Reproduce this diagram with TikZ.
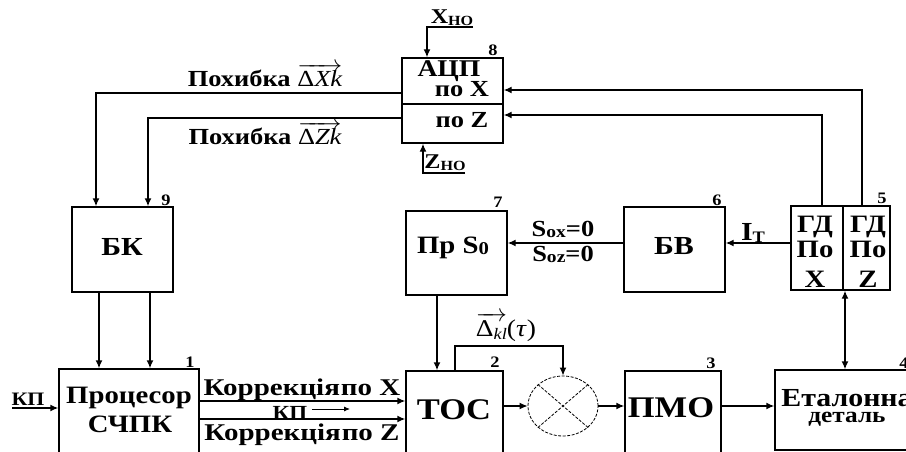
\documentclass[tikz,border=0pt]{standalone}
\usepackage{fontspec}
\setmainfont{Liberation Serif}[FakeStretch=1.15]
\usetikzlibrary{arrows.meta,shapes.geometric}
\newcommand{\fsz}[1]{\fontsize{#1}{#1}\selectfont}
\begin{document}
\begin{tikzpicture}[x=1pt,y=-1pt, line width=1.4pt,
  box/.style={draw, line width=1.4pt, inner sep=0pt},
  arr/.style={-{Latex[length=8pt,width=7pt]}},
  txt/.style={inner sep=0pt, anchor=base, font=\bfseries},
  num/.style={inner sep=0pt, anchor=base, font=\bfseries\fsz{16}},
  dsh/.style={line width=0.8pt, dash pattern=on 3pt off 1.5pt}]
\useasboundingbox (0,0) rectangle (906,452);
\clip (0,0) rectangle (906,452);
% helper levels
\coordinate (h90) at (0,90);
\coordinate (h93) at (0,93);   \coordinate (h104) at (0,104);
\coordinate (h115) at (0,115); \coordinate (h118) at (0,118);
\coordinate (h243) at (0,243);
\coordinate (h346) at (0,346); \coordinate (h401) at (0,401);
\coordinate (h419) at (0,419);
\coordinate (v96) at (96,0);   \coordinate (v148) at (148,0);
\coordinate (v99) at (99,0);   \coordinate (v150) at (150,0);
\coordinate (v423) at (423,0); \coordinate (v427) at (427,0);
\coordinate (v437) at (437,0); \coordinate (v455) at (455,0);
\coordinate (v822) at (822,0); \coordinate (v843) at (843,0);
\coordinate (v845) at (845,0); \coordinate (v862) at (862,0);
% boxes
\node[box, minimum width=101pt, minimum height=85pt] (adc) at (452.5,100.5) {};
\node[box, minimum width=99pt, minimum height=84pt] (gd) at (840.5,248) {};
\node[box, minimum width=101pt, minimum height=85pt] (bv) at (674.5,249.5) {};
\node[box, minimum width=101pt, minimum height=84pt] (prs) at (456.5,253) {};
\node[box, minimum width=101pt, minimum height=85pt] (bk) at (122.5,249.5) {};
\node[box, minimum width=140pt, minimum height=95pt] (proc) at (129,416.5) {};
\node[box, minimum width=97pt, minimum height=95pt] (toc) at (454.5,418.5) {};
\node[box, minimum width=96pt, minimum height=95pt] (pmo) at (673,418.5) {};
\node[box, minimum width=137pt, minimum height=80pt] (etal) at (843.5,410) {};
\node[draw, dsh, ellipse, minimum width=70pt, minimum height=60pt, inner sep=0pt] (circ) at (563,406) {};
\draw[dsh] (circ.north east) -- (circ.south west);
\draw[dsh] (circ.north west) -- (circ.south east);
% dividers
\draw (adc.west |- h104) -- (adc.east |- h104);
\draw (gd.north -| v843) -- (gd.south -| v843);
% connectors
\draw[arr] (adc.west |- h93) -| (bk.north -| v96);
\draw[arr] (adc.west |- h118) -| (bk.north -| v148);
\draw[arr] (bk.south -| v99) -- (proc.north -| v99);
\draw[arr] (bk.south -| v150) -- (proc.north -| v150);
\coordinate (kp) at (12,408);
\draw[arr] (kp) -- (proc.west |- kp);
\draw[arr] (proc.east |- h401) -- (toc.west |- h401);
\draw[arr] (proc.east |- h419) -- (toc.west |- h419);
\coordinate (ka1) at (312,409); \coordinate (ka2) at (350,409);
\draw[line width=0.9pt, -{Latex[length=6pt,width=5pt]}] (ka1) -- (ka2);
\draw[arr] (prs.south -| v437) -- (toc.north -| v437);
\draw[arr] (toc.north -| v455) -- (v455 |- h346) -| (circ.north);
\draw[arr] (toc.east |- circ.west) -- (circ.west);
\draw[arr] (circ.east) -- (pmo.west |- circ.east);
\draw[arr] (pmo.east |- circ.east) -- (etal.west |- circ.east);
\draw[{Latex[length=8pt,width=7pt]}-{Latex[length=8pt,width=7pt]}] (gd.south -| v845) -- (etal.north -| v845);
\draw[arr] (gd.west |- h243) -- (bv.east |- h243);
\draw[arr] (bv.west |- h243) -- (prs.east |- h243);
\draw[arr] (gd.north -| v862) |- (adc.east |- h90);
\draw[arr] (gd.north -| v822) |- (adc.east |- h115);
\coordinate (xho) at (473,27);
\draw[arr] (xho) -| (adc.north -| v427);
\coordinate (zho) at (465,173);
\draw[arr] (zho) -| (adc.south -| v423);
% texts
\node[txt, font=\bfseries\fsz{25}] (tp1) at (129,403) {Процесор};
\node[txt, font=\bfseries\fsz{25}] (tp2) at (130,432) {СЧПК};
\node[txt, font=\bfseries\fsz{19}] (tkp) at (28,405) {КП};
\node[txt, font=\bfseries\fsz{24}] (tkx) at (302,395) {\scalebox{1.05}[1]{Коррекція\kern1pt по X}};
\node[txt, font=\bfseries\fsz{20}] (tkp2) at (290,419) {КП};
\node[txt, font=\bfseries\fsz{24}] (tkz) at (302,440) {\scalebox{1.05}[1]{Коррекція\kern1pt по Z}};
\node[txt, font=\bfseries\fsz{30}] (ttoc) at (454,419) {TOC};
\node[txt, font=\fsz{24}] (tdk) at (506,336) {$\overrightarrow{\hbox{\mdseries Δ\raisebox{-3pt}{\fsz{16}\itshape kl}}}$\mdseries(\textit{τ})};
\node[txt, font=\bfseries\fsz{30}] (tpmo) at (671,417) {ПМО};
\node[txt, font=\bfseries\fsz{26}] (tet1) at (847,406) {Еталонна};
\node[txt, font=\bfseries\fsz{22}] (tet2) at (847,422) {деталь};
\node[txt, font=\bfseries\fsz{24}] (tadc) at (449,77) {АЦП};
\node[txt, font=\bfseries\fsz{23}] (tpox) at (462,97) {по X};
\node[txt, font=\bfseries\fsz{23}] (tpoz) at (462,128) {по Z};
\node[txt, font=\bfseries\fsz{21}] (txho) at (452,24) {X\raisebox{-2pt}{\fsz{14}НО}};
\node[txt, font=\bfseries\fsz{21}] (tzho) at (445,168) {Z\raisebox{-2pt}{\fsz{14}НО}};
\node[txt, font=\bfseries\fsz{25}] (tprs) at (453,253) {Пр S\raisebox{-1pt}{\fsz{18}0}};
\node[txt, font=\bfseries\fsz{23}] (tsox) at (563,236) {S\raisebox{-1pt}{\fsz{17}ox}=0};
\node[txt, font=\bfseries\fsz{23}] (tsoz) at (563,261) {S\raisebox{-1pt}{\fsz{17}oz}=0};
\node[txt, font=\bfseries\fsz{26}] (tbv) at (674,254) {БВ};
\node[txt, font=\bfseries\fsz{26}] (tit) at (753,240) {I\raisebox{-2pt}{\fsz{16}Т}};
\node[txt, font=\bfseries\fsz{25}] (tg1) at (815,232) {ГД};
\node[txt, font=\bfseries\fsz{25}] (tg2) at (815,257) {По};
\node[txt, font=\bfseries\fsz{25}] (tg3) at (815,287) {X};
\node[txt, font=\bfseries\fsz{25}] (tg4) at (868,232) {ГД};
\node[txt, font=\bfseries\fsz{25}] (tg5) at (868,257) {По};
\node[txt, font=\bfseries\fsz{25}] (tg6) at (868,287) {Z};
\node[txt, font=\bfseries\fsz{26}] (tbk) at (122,255) {БК};
\node[txt, font=\bfseries\fsz{23}] (tdx) at (265,87) {Похибка $\overrightarrow{\hbox{\mdseries Δ\itshape Xk}}$};
\node[txt, font=\bfseries\fsz{23}] (tdz) at (265,145) {Похибка $\overrightarrow{\hbox{\mdseries Δ\itshape Zk}}$};
% numbers
\node[num] (n1) at (190,367) {1};
\node[num] (n2) at (495,367) {2};
\node[num] (n3) at (711,368) {3};
\node[num] (n4) at (904,368) {4};
\node[num] (n5) at (882,203) {5};
\node[num] (n6) at (717,205) {6};
\node[num] (n7) at (498,207) {7};
\node[num] (n8) at (493,56) {8};
\node[num] (n9) at (166,205) {9};
\end{tikzpicture}
\end{document}
